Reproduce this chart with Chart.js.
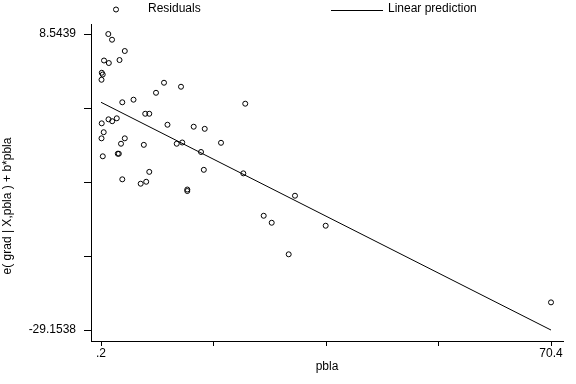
<!DOCTYPE html>
<html>
<head>
<meta charset="utf-8">
<script src="https://cdn.jsdelivr.net/npm/chart.js@4/dist/chart.umd.min.js"></script>
<style>
  html, body { margin: 0; padding: 0; background: #fff; }
  #wrap { width: 576px; height: 384px; }
</style>
</head>
<body>
<div id="wrap"><canvas id="c"></canvas></div>
<script>
// residuals (component-plus-residual) against pbla
const residPbla = [
    1.34, 1.92, 3.91, 0.67, 1.42, 3.09, 0.32, 0.47, 0.28, 10.03,
    12.68, 8.78, 5.27, 3.52, 22.70, 7.10, 7.73, 0.31, 1.37, 1.95,
    2.66, 10.57, 14.66, 16.38, 0.62, 0.28, 3.91, 3.32, 6.88, 12.01,
    12.87, 18.92, 15.80, 0.48, 2.82, 2.98, 16.24, 7.73, 22.40, 3.52,
    6.39, 7.25, 13.66, 13.66, 30.46, 25.58, 26.83, 35.25, 29.48, 70.4
];
const residValues = [
    8.5439, 7.82, 6.38, 5.17, 4.85, 5.23, 3.61, 3.39, 2.72, 2.34,
    1.83, 1.06, 0.18, -0.15, -0.33, -1.61, -1.61, -2.83, -2.32, -2.56,
    -2.19, -3.01, -3.26, -3.53, -3.96, -4.74, -4.74, -5.43, -5.57, -5.43,
    -5.27, -5.31, -6.48, -7.03, -6.70, -6.70, -8.75, -9.01, -9.20, -9.96,
    -10.52, -10.27, -11.26, -11.45, -12.05, -14.60, -15.49, -15.87, -19.51, -25.63
];

// fitted line
const fitPbla = [0.2, 70.4];
const fitValues = [-0.15, -29.1538];

const xTickValues = [0.2, 17.75, 35.3, 52.85, 70.4];
const xTickLabels = ['.2', '', '', '', '70.4'];
const yTickValues = [8.5439, -0.88055, -10.30498, -19.72940, -29.1538];
const yTickLabels = ['8.5439', '', '', '', '-29.1538'];
const yTitle = 'e( grad | X,pbla ) + b*pbla';

const FONT = '"Liberation Sans", Arial, Helvetica, sans-serif';

// stata-style legend row on top plus the y title, drawn by hand
const stataDecor = {
    id: 'stataDecor',
    afterDraw(chart) {
        const ctx = chart.ctx;
        const ds = chart.data.datasets;
        ctx.save();
        ctx.font = '12px ' + FONT;
        ctx.fillStyle = '#000';
        ctx.strokeStyle = '#000';
        ctx.lineWidth = 1;
        ctx.textBaseline = 'middle';

        ctx.beginPath();
        ctx.arc(116, 9.5, 2.5, 0, Math.PI * 2);
        ctx.stroke();
        ctx.fillText(ds[0].label, 148, 9);

        ctx.beginPath();
        ctx.moveTo(331, 10.5);
        ctx.lineTo(383, 10.5);
        ctx.stroke();
        ctx.fillText(ds[1].label, 388, 9);

        ctx.translate(8, 206);
        ctx.rotate(-Math.PI / 2);
        ctx.textAlign = 'center';
        ctx.fillText(yTitle, 0, 0);
        ctx.restore();
    }
};

new Chart(document.getElementById('c'), {
    type: 'scatter',
    data: {
        datasets: [
            {
                label: 'Residuals',
                data: residPbla.map((x, i) => ({ x, y: residValues[i] })),
                pointStyle: 'circle',
                pointRadius: 2.5,
                pointBorderWidth: 1,
                pointBorderColor: '#000',
                pointBackgroundColor: 'rgba(0,0,0,0)'
            },
            {
                label: 'Linear prediction',
                type: 'line',
                data: fitPbla.map((x, i) => ({ x, y: fitValues[i] })),
                borderColor: '#000',
                borderWidth: 1,
                pointRadius: 0,
                fill: false
            }
        ]
    },
    options: {
        responsive: true,
        maintainAspectRatio: false,
        animation: false,
        events: [],
        layout: { padding: { top: 24, right: 13, left: 0, bottom: 0 } },
        plugins: {
            legend: { display: false },
            tooltip: { enabled: false }
        },
        scales: {
            x: {
                type: 'linear',
                min: -1.36,
                max: 72.27,
                afterFit: (s) => { s.height = 43; },
                afterBuildTicks: (s) => { s.ticks = xTickValues.map(v => ({ value: v })); },
                grid: { drawOnChartArea: false, drawTicks: true, tickLength: 5, color: '#000', lineWidth: 1 },
                border: { display: true, color: '#000', width: 1 },
                ticks: {
                    padding: 0,
                    maxRotation: 0,
                    autoSkip: false,
                    color: '#000',
                    font: { family: FONT, size: 12 },
                    callback: (v, i) => xTickLabels[i]
                },
                title: {
                    display: true,
                    text: 'pbla',
                    color: '#000',
                    font: { family: FONT, size: 12 },
                    padding: { top: 0, bottom: 10 }
                }
            },
            y: {
                type: 'linear',
                min: -30.55,
                max: 9.82,
                afterFit: (s) => { s.width = 91; },
                afterBuildTicks: (s) => { s.ticks = yTickValues.map(v => ({ value: v })); },
                grid: { drawOnChartArea: false, drawTicks: true, tickLength: 7, color: '#000', lineWidth: 1 },
                border: { display: true, color: '#000', width: 1 },
                ticks: {
                    padding: 8,
                    autoSkip: false,
                    color: '#000',
                    font: { family: FONT, size: 12 },
                    callback: (v, i) => yTickLabels[i]
                }
            }
        }
    },
    plugins: [stataDecor]
});
</script>
</body>
</html>
